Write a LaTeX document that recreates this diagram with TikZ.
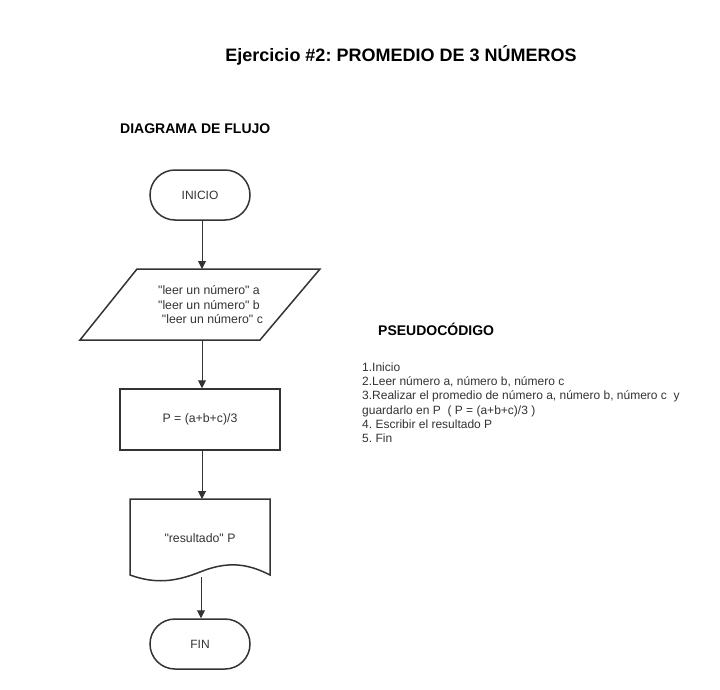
\documentclass[tikz,border=0pt]{standalone}
\usepackage{fontspec}
\setmainfont[Ligatures=TeXOff]{Liberation Sans}
\usetikzlibrary{arrows.meta,shapes.misc}
\definecolor{ln}{HTML}{333333}
\definecolor{tx}{HTML}{333333}
\frenchspacing
\tikzset{
  shp/.style={draw=ln, line width=1.5pt},
  term/.style={shp, rounded rectangle, minimum width=100pt, minimum height=50pt, inner sep=0pt, font=\fontsize{12}{14}\selectfont, text=tx},
  proc/.style={shp, rectangle, minimum width=160pt, minimum height=61pt, inner sep=0pt, font=\fontsize{12.3}{14}\selectfont, text=tx},
  lbl/.style={font=\fontsize{12.3}{14.5}\selectfont, text=tx, inner sep=0pt, align=left},
  conn/.style={draw=ln, line width=1pt, -{Triangle[length=8pt,width=8pt]}},
}
\begin{document}
\begin{tikzpicture}[x=1pt,y=-1pt]
\useasboundingbox (0,0) rectangle (720,690);
% titles
\node[font=\bfseries\fontsize{18}{20}\selectfont, inner sep=0pt] (title) at (401,55) {Ejercicio \#2: PROMEDIO DE 3 NÚMEROS};
\node[font=\bfseries\fontsize{14}{16}\selectfont, inner sep=0pt, anchor=west] (dflabel) at (120,129) {DIAGRAMA DE FLUJO};
\node[font=\bfseries\fontsize{14}{16}\selectfont, inner sep=0pt, anchor=west] (pslabel) at (378,329) {PSEUDOCÓDIGO};
% flowchart
\node[term] (inicio) at (200,195) {INICIO};
% parallelogram
\draw[shp] (137,269) -- (320,269) -- (260,340) -- (80,340) -- cycle;
\coordinate (intop) at (202,269);
\coordinate (inbot) at (202,340);
\node[lbl, align=center] (intext) at (209,305) {"leer un número" a\\"leer un número" b\\\ \ "leer un número" c};
\node[proc] (calc) at (200,419.5) {P = (a+b+c)/3};
% document shape
\draw[shp] (130,575) -- (130,499) -- (270,499) -- (270,575)
  .. controls (245,562) and (225,562) .. (200,572)
  .. controls (175,582) and (155,584) .. cycle;
\coordinate (doctop) at (202,499);
\coordinate (docbot) at (201,577);
\node[lbl] (doctext) at (200,538) {"resultado" P};
\node[term] (fin) at (200,644) {FIN};
% connectors
\draw[conn] (inicio.south -| intop) -- (intop);
\draw[conn] (inbot) -- (inbot |- calc.north);
\draw[conn] (calc.south -| doctop) -- (doctop);
\draw[conn] (docbot) -- (docbot |- fin.north);
% pseudocode
\node[lbl, anchor=north west, font=\fontsize{12}{14.3}\selectfont] (pseudo) at (362,362.5) {1.Inicio\\
2.Leer número a, número b, número c\\
3.Realizar el promedio de número a, número b, número c \ y\\
guardarlo en P \ ( P = (a+b+c)/3 )\\
4. Escribir el resultado P\\
5. Fin};
\end{tikzpicture}
\end{document}
